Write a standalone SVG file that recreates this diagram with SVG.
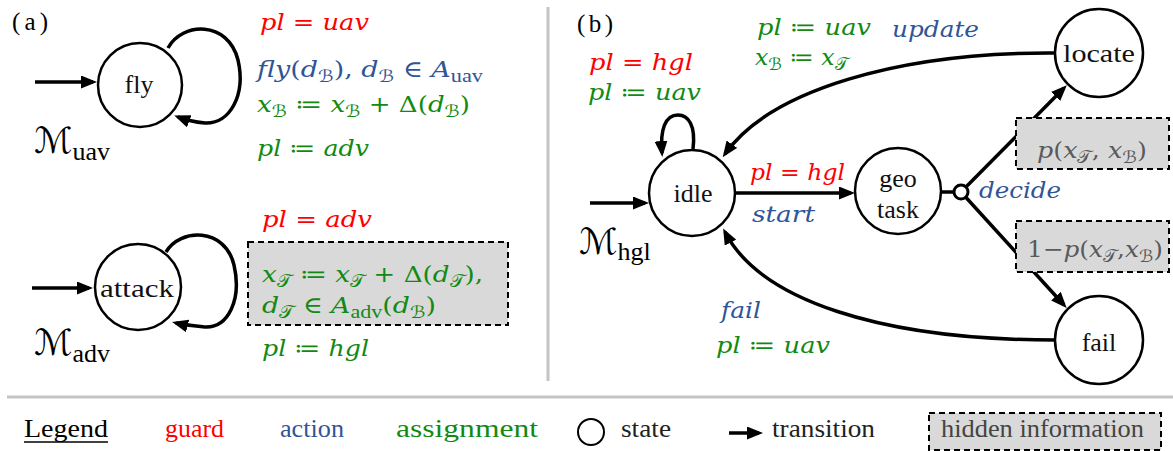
<svg xmlns="http://www.w3.org/2000/svg" width="1173" height="451" viewBox="0 0 1173 451">
<style>
.node{fill:#fff;stroke:#000;stroke-width:2.5}
.lbl{font-family:"Liberation Serif","DejaVu Serif",serif;font-size:26px;fill:#111;text-anchor:middle}
.m{font-family:"DejaVu Serif","Liberation Serif",serif;font-style:italic;font-size:23px}
.up{font-style:normal}
.s{font-family:"DejaVu Sans",sans-serif;font-style:normal;font-size:17px}
.su{font-family:"Liberation Serif",serif;font-style:normal;font-size:19px}
.r{fill:#ff0000}.b{fill:#2f5597}.g{fill:#128a12}.gr{fill:#5a5a5a}
.cal{font-family:"DejaVu Sans",sans-serif;font-size:36px;fill:#000}
.calsub{font-family:"Liberation Serif",serif;font-size:26px}
.hid{fill:#d9d9d9;stroke:#000;stroke-width:2;stroke-dasharray:6,4}
.edge{fill:none;stroke:#000;stroke-width:3.5}
.leg{font-family:"Liberation Serif","DejaVu Serif",serif;font-size:25px}
.ttl{font-family:"Liberation Serif",serif;font-size:25px;fill:#000}
</style>
<defs>
<marker id="ah" viewBox="0 0 10 10" refX="7.5" refY="5" markerWidth="16" markerHeight="13" markerUnits="userSpaceOnUse" orient="auto" preserveAspectRatio="none">
<path d="M0,0 L10,5 L0,10 z" fill="#000"/>
</marker>
</defs>
<rect width="1173" height="451" fill="#fff"/>
<line x1="548" y1="7" x2="548" y2="381" stroke="#c4c4c4" stroke-width="3"/>
<line x1="7" y1="397" x2="1173" y2="397" stroke="#c4c4c4" stroke-width="3"/>
<text class="ttl" x="12" y="30" textLength="36">(a)</text>
<text class="ttl" x="577" y="32" textLength="36">(b)</text>

<g id="connectors">
<path class="edge" marker-end="url(#ah)" d="M35,82 L93,82"/>
<path class="edge" marker-end="url(#ah)" d="M168,48 C182,22 228,20 238,60 C246,95 230,124 205,123 C195,122 186,120 178,117"/>
<path class="edge" marker-end="url(#ah)" d="M32,288 L89,288"/>
<path class="edge" marker-end="url(#ah)" d="M166,252 C180,228 225,227 234,265 C242,300 228,328 205,327 C195,326 184,325 176,323"/>
<path class="edge" marker-end="url(#ah)" d="M590,203 L645,203"/>
<path class="edge" marker-end="url(#ah)" d="M693,149 C696,125 688,115 678,115 C665,115 660,130 662,153"/>
<path class="edge" marker-end="url(#ah)" d="M735,193 L851,193"/>
<path class="edge" marker-end="url(#ah)" d="M1055,53 C900,52 770,90 725,154"/>
<path class="edge" marker-end="url(#ah)" d="M1055,340 C880,340 760,300 725,232"/>
<path class="edge" d="M941,192 L954,192"/>
<path class="edge" marker-end="url(#ah)" d="M961,192 L1064,88"/>
<path class="edge" marker-end="url(#ah)" d="M961,192 L1064,305"/>
<circle cx="961" cy="192" r="7" fill="#fff" stroke="#000" stroke-width="3"/>
</g>

<g id="fly">
<circle class="node" cx="140" cy="85" r="42"/>
<text class="lbl" x="139" y="93">fly</text>
</g>
<g id="attack">
<circle class="node" cx="138" cy="287" r="43"/>
<text class="lbl" x="137" y="297" textLength="74" lengthAdjust="spacingAndGlyphs">attack</text>
</g>
<g id="idle">
<circle class="node" cx="692" cy="193" r="43"/>
<text class="lbl" x="693" y="202">idle</text>
</g>
<g id="geotask">
<circle class="node" cx="898" cy="191" r="43"/>
<text class="lbl" x="898" y="187">geo</text>
<text class="lbl" x="898" y="218">task</text>
</g>
<g id="locate">
<circle class="node" cx="1099" cy="53" r="44"/>
<text class="lbl" x="1099" y="62" textLength="72" lengthAdjust="spacingAndGlyphs">locate</text>
</g>
<g id="fail">
<circle class="node" cx="1099" cy="340" r="44"/>
<text class="lbl" x="1099" y="351">fail</text>
</g>

<g id="labels-a">
<text class="m r" x="260" y="30" textLength="109" lengthAdjust="spacingAndGlyphs">pl <tspan class="up">=</tspan> uav</text>
<text class="m b" x="257" y="77" textLength="226" lengthAdjust="spacingAndGlyphs">fly<tspan class="up">(</tspan>d<tspan class="s" dy="5">ℬ</tspan><tspan class="up" dy="-5">),</tspan> d<tspan class="s" dy="5">ℬ</tspan><tspan class="up" dy="-5"> ∈ </tspan>A<tspan class="su" dy="5">uav</tspan></text>
<text class="m g" x="257" y="112" textLength="213" lengthAdjust="spacingAndGlyphs">x<tspan class="s" dy="5">ℬ</tspan><tspan class="up" dy="-5">  ≔ </tspan>x<tspan class="s" dy="5">ℬ</tspan><tspan class="up" dy="-5"> + Δ(</tspan>d<tspan class="s" dy="5">ℬ</tspan><tspan class="up" dy="-5">)</tspan></text>
<text class="m g" x="257" y="156" textLength="112" lengthAdjust="spacingAndGlyphs">pl <tspan class="up">≔</tspan> adv</text>
<text class="cal" x="34" y="153">ℳ<tspan class="calsub" dy="7">uav</tspan></text>

<text class="m r" x="262" y="227" textLength="110" lengthAdjust="spacingAndGlyphs">pl <tspan class="up">=</tspan> adv</text>
<rect class="hid" x="248" y="242" width="260" height="83"/>
<text class="m g" x="262" y="282" textLength="221" lengthAdjust="spacingAndGlyphs">x<tspan class="s" dy="5">𝒯</tspan><tspan class="up" dy="-5">  ≔ </tspan>x<tspan class="s" dy="5">𝒯</tspan><tspan class="up" dy="-5"> + Δ(</tspan>d<tspan class="s" dy="5">𝒯</tspan><tspan class="up" dy="-5">),</tspan></text>
<text class="m g" x="262" y="313" textLength="174" lengthAdjust="spacingAndGlyphs">d<tspan class="s" dy="5">𝒯</tspan><tspan class="up" dy="-5"> ∈ </tspan>A<tspan class="su" dy="5">adv</tspan><tspan class="up" dy="-5">(</tspan>d<tspan class="s" dy="5">ℬ</tspan><tspan class="up" dy="-5">)</tspan></text>
<text class="m g" x="262" y="356" textLength="107" lengthAdjust="spacingAndGlyphs">pl <tspan class="up">≔</tspan> hgl</text>
<text class="cal" x="34" y="355">ℳ<tspan class="calsub" dy="7">adv</tspan></text>
</g>

<g id="labels-b">
<text class="m r" x="589" y="70" textLength="104" lengthAdjust="spacingAndGlyphs">pl <tspan class="up">=</tspan> hgl</text>
<text class="m g" x="588" y="100" textLength="113" lengthAdjust="spacingAndGlyphs">pl <tspan class="up">≔</tspan> uav</text>
<text class="m g" x="757" y="35" textLength="114" lengthAdjust="spacingAndGlyphs">pl <tspan class="up">≔</tspan> uav</text>
<text class="m g" x="755" y="65" textLength="93" lengthAdjust="spacingAndGlyphs">x<tspan class="s" dy="5">ℬ</tspan><tspan class="up" dy="-5"> ≔ </tspan>x<tspan class="s" dy="5">𝒯</tspan></text>
<text class="m b" x="892" y="37" textLength="87" lengthAdjust="spacingAndGlyphs">update</text>
<text class="m r" x="750" y="180" textLength="95" lengthAdjust="spacingAndGlyphs">pl <tspan class="up">=</tspan> hgl</text>
<text class="m b" x="752" y="222" textLength="63" lengthAdjust="spacingAndGlyphs">start</text>
<text class="m b" x="979" y="198" textLength="82" lengthAdjust="spacingAndGlyphs">decide</text>
<text class="m b" x="721" y="318" textLength="40" lengthAdjust="spacingAndGlyphs">fail</text>
<text class="m g" x="716" y="353" textLength="114" lengthAdjust="spacingAndGlyphs">pl <tspan class="up">≔</tspan> uav</text>
<text class="cal" x="579" y="254">ℳ<tspan class="calsub" dy="6">hgl</tspan></text>
<rect class="hid" x="1016" y="118" width="153" height="51"/>
<text class="m gr" x="1037" y="158" textLength="110" lengthAdjust="spacingAndGlyphs">p<tspan class="up">(</tspan>x<tspan class="s" dy="5">𝒯</tspan><tspan class="up" dy="-5">, </tspan>x<tspan class="s" dy="5">ℬ</tspan><tspan class="up" dy="-5">)</tspan></text>
<rect class="hid" x="1016" y="221" width="153" height="51"/>
<text class="m gr" x="1027" y="257" textLength="136" lengthAdjust="spacingAndGlyphs"><tspan class="up">1−</tspan>p<tspan class="up">(</tspan>x<tspan class="s" dy="5">𝒯</tspan><tspan class="up" dy="-5">,</tspan>x<tspan class="s" dy="5">ℬ</tspan><tspan class="up" dy="-5">)</tspan></text>
</g>

<g id="legend">
<text class="leg" x="24" y="437" textLength="84" lengthAdjust="spacingAndGlyphs" fill="#000">Legend</text>
<line x1="24" y1="442" x2="108" y2="442" stroke="#000" stroke-width="1.5"/>
<text class="leg r" x="165" y="437" textLength="59" lengthAdjust="spacingAndGlyphs">guard</text>
<text class="leg b" x="280" y="437" textLength="64" lengthAdjust="spacingAndGlyphs">action</text>
<text class="leg g" x="396" y="437" textLength="142" lengthAdjust="spacingAndGlyphs">assignment</text>
<circle cx="591" cy="432" r="13" fill="#fff" stroke="#000" stroke-width="2"/>
<text class="leg" x="621" y="437" textLength="50" lengthAdjust="spacingAndGlyphs" fill="#222">state</text>
<path class="edge" marker-end="url(#ah)" d="M729,433 L759,433"/>
<text class="leg" x="772" y="437" textLength="103" lengthAdjust="spacingAndGlyphs" fill="#222">transition</text>
<rect class="hid" x="929" y="413" width="232" height="37"/>
<text class="leg" x="941" y="437" textLength="203" lengthAdjust="spacingAndGlyphs" fill="#444">hidden information</text>
</g>
</svg>
